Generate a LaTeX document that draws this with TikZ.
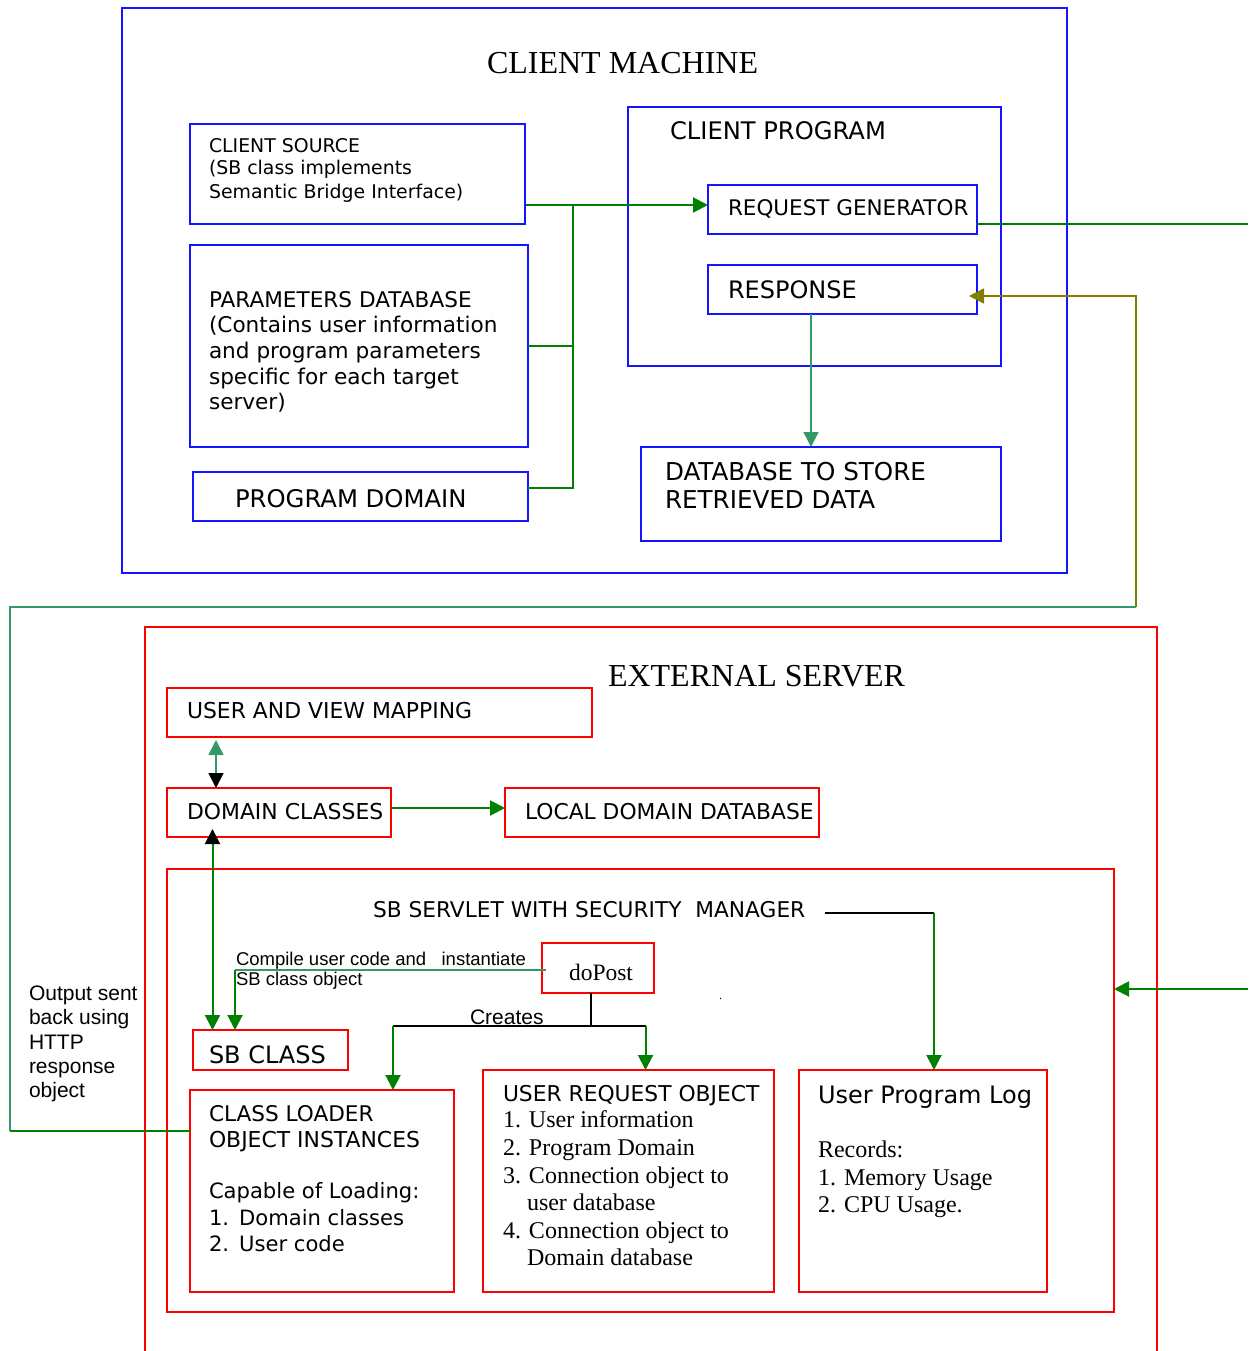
\documentclass[tikz,border=0pt]{standalone}
\usepackage{fontspec}
\setmainfont{Liberation Serif}
\newfontfamily\dvs{DejaVu Sans}
\newfontfamily\ars{Liberation Sans}
\newfontfamily\tms{Liberation Serif}
\usetikzlibrary{arrows.meta,calc,fit}
\definecolor{cblue}{RGB}{20,20,255}
\definecolor{cred}{RGB}{255,0,0}
\definecolor{cgreen}{RGB}{0,128,0}
\definecolor{csea}{RGB}{51,153,102}
\definecolor{colive}{RGB}{128,128,0}
\newcommand\fsz[1]{\fontsize{#1}{#1}\selectfont}
\begin{document}
\begin{tikzpicture}[x=1pt,y=-1pt,
  bbox/.style={draw=cblue,line width=2pt,inner sep=0pt,outer sep=0pt},
  rbox/.style={draw=cred,line width=2pt,inner sep=0pt,outer sep=0pt},
  tx/.style={anchor=base west,inner sep=0pt,outer sep=0pt},
  dvt/.style={tx,font={\dvs\fsz{#1}}},
  art/.style={tx,font={\ars\fsz{#1}}},
  tmt/.style={tx,font={\tms\fsz{#1}}},
  gline/.style={draw=cgreen,line width=2pt},
  sline/.style={draw=csea,line width=1.6pt},
  kline/.style={draw=black,line width=2pt},
  oline/.style={draw=colive,line width=1.6pt},
  tri/.tip={Triangle[length=15pt,width=15pt]},
  ktri/.tip={Triangle[length=15pt,width=15pt,color=black]},
]
\useasboundingbox (0,0) rectangle (1248,1351);

% ---------------- CLIENT MACHINE ----------------
\node[bbox, fit={(122,8) (1067,573)}] (cm) {};
\node[tmt=32] (tcm) at (487,74) {CLIENT MACHINE};

\node[bbox, fit={(190,124) (525,224)}] (cs) {};
\node[dvt=18.9] (tcs1) at (209,153) {CLIENT SOURCE};
\node[dvt=18.9] (tcs2) at (209,175) {(SB class implements};
\node[dvt=18.9] (tcs3) at (209,198) {Semantic Bridge Interface)};

\node[bbox, fit={(190,245) (528,447)}] (pd) {};
\node[dvt=21.6] (tpd1) at (209,307) {PARAMETERS DATABASE};
\node[dvt=21.6] (tpd2) at (209,332) {(Contains user information};
\node[dvt=21.6] (tpd3) at (209,358) {and program parameters};
\node[dvt=21.6] (tpd4) at (209,384) {specific for each target};
\node[dvt=21.6] (tpd5) at (209,409) {server)};

\node[bbox, fit={(193,472) (528,521)}] (pdom) {};
\node[dvt=24.3] (tpdom) at (235,507) {PROGRAM DOMAIN};

\node[bbox, fit={(628,107) (1001,366)}] (cp) {};
\node[dvt=24.2] (tcp) at (670,140) {CLIENT PROGRAM};

\node[bbox, fit={(708,185) (977,234)}] (rg) {};
\node[dvt=21.5] (trg) at (728,215) {REQUEST GENERATOR};

\node[bbox, fit={(708,265) (977,314)}] (resp) {};
\node[dvt=24] (tresp) at (728,298) {RESPONSE};

\node[bbox, fit={(641,447) (1001,541)}] (dbs) {};
\node[dvt=24.6] (tdbs1) at (665,480) {DATABASE TO STORE};
\node[dvt=24.6] (tdbs2) at (665,508) {RETRIEVED DATA};

% ---------------- EXTERNAL SERVER ----------------
\draw[draw=cred,line width=2pt] (145,1352) -- (145,627) -- (1157,627) -- (1157,1352);
\node[tmt=32] (tes) at (608,686) {EXTERNAL SERVER};

\node[rbox, fit={(167,688) (592,737)}] (uvm) {};
\node[dvt=21.9] (tuvm) at (187,718) {USER AND VIEW MAPPING};

\node[rbox, fit={(167,788) (391,837)}] (dc) {};
\node[dvt=21.9] (tdc) at (187,819) {DOMAIN CLASSES};

\node[rbox, fit={(505,788) (819,837)}] (ldd) {};
\node[dvt=21.8] (tldd) at (525,819) {LOCAL DOMAIN DATABASE};

\node[rbox, fit={(167,869) (1114,1312)}] (sv) {};
\node[dvt=21.7] (tsv) at (373,917) {SB SERVLET WITH SECURITY\ \ MANAGER};

\node[rbox, fit={(542,943) (654,993)}] (dp) {};
\node[tmt=23.5] (tdp) at (569,980.5) {doPost};
\node[tmt=12] (tdot) at (719,999) {.};

\node[art=18.5] (tcmp1) at (236,965) {Compile user code and \ \ instantiate};
\node[art=18.5] (tcmp2) at (236,985) {SB class object};
\node[art=21] (tcre) at (470,1024) {Creates};

\node[rbox, fit={(193,1030) (348,1070)}] (sb) {};
\node[dvt=24] (tsb) at (209,1063) {SB CLASS};

\node[rbox, fit={(190,1090) (454,1292)}] (cl) {};
\node[dvt=21.6] (tcl1) at (209,1121) {CLASS LOADER};
\node[dvt=21.9] (tcl2) at (209,1147) {OBJECT INSTANCES};
\node[dvt=21.1] (tcl3) at (209,1198) {Capable of Loading:};
\node[dvt=21.1] (tcl4) at (209,1225) {1.\hspace{10pt}Domain classes};
\node[dvt=21.1] (tcl5) at (209,1251) {2.\hspace{10pt}User code};

\node[rbox, fit={(483,1070) (774,1292)}] (ur) {};
\node[dvt=21.8] (tur0) at (503,1101) {USER REQUEST OBJECT};
\node[tmt=24] (tur1) at (503,1127) {1. User information};
\node[tmt=24] (tur2) at (503,1155) {2. Program Domain};
\node[tmt=24] (tur3) at (503,1183) {3. Connection object to};
\node[tmt=24] (tur4) at (527,1210) {user database};
\node[tmt=24] (tur5) at (503,1238) {4. Connection object to};
\node[tmt=24] (tur6) at (527,1265) {Domain database};

\node[rbox, fit={(799,1070) (1047,1292)}] (upl) {};
\node[dvt=24] (tupl0) at (818,1103) {User Program Log};
\node[tmt=24] (tupl1) at (818,1157) {Records:};
\node[tmt=24] (tupl2) at (818,1185) {1. Memory Usage};
\node[tmt=24] (tupl3) at (818,1212) {2. CPU Usage.};

\node[art=21] (tout1) at (29,1000) {Output sent};
\node[art=21] (tout2) at (29,1024) {back using};
\node[art=21] (tout3) at (29,1049) {HTTP};
\node[art=21] (tout4) at (29,1073) {response};
\node[art=21] (tout5) at (29,1097) {object};

% ---------------- named free points ----------------
\coordinate (busT) at (573,205);
\coordinate (busM) at (573,346);
\coordinate (busB) at (573,488);
\coordinate (rgout) at (1248,224);
\coordinate (oc) at (1136,607);
\coordinate (ot) at (1136,296);
\coordinate (lc) at (10,607);
\coordinate (lb) at (10,1131);
\coordinate (cmp) at (235,970);
\coordinate (crJ) at (591,1026);
\coordinate (crL) at (393,1026);
\coordinate (crR) at (645.5,1026);
\coordinate (s1) at (825,912.5);
\coordinate (s2) at (934,912.5);
\coordinate (inR) at (1248,989);

% ---------------- connectors: client ----------------
\draw[gline,-tri] ($(cs.north east)+(1,81)$) -- ($(rg.north west)+(0,20)$);
\draw[gline] (busT) -- (busB) -- ($(pdom.north east)+(0,16)$);
\draw[gline] ($(pd.north east)+(0,101)$) -- (busM);
\draw[gline] ($(rg.north east)+(0,39)$) -- (rgout);
\draw[sline,-tri] ($(resp.south west)+(103,0)$) -- ($(dbs.north west)+(170,0)$);
\draw[oline,-tri] (oc) -- (ot) -- ($(resp.north east)+(-8,31)$);

% ---------------- return path ----------------
\draw[sline] (oc) -- (lc) -- (lb);
\draw[gline] (lb) -- ($(cl.north west)+(0,41)$);

% ---------------- connectors: server ----------------
\draw[sline,tri-ktri] ($(uvm.south west)+(49,3)$) -- ($(dc.north west)+(49,0)$);
\draw[gline,-tri] ($(dc.north east)+(0,20)$) -- ($(ldd.north west)+(0,20)$);
\draw[gline,ktri-tri] ($(dc.south west)+(45.5,-8)$) -- ($(sb.north west)+(19.5,0)$);
\draw[sline] ($(dp.north west)+(4,27)$) -- (cmp);
\draw[gline,-tri] (cmp) -- ($(sb.north west)+(42,0)$);
\draw[kline] ($(dp.south west)+(49,0)$) -- (crJ);
\draw[kline] (crL) -- (crR);
\draw[gline,-tri] (crL) -- ($(cl.north west)+(203,0)$);
\draw[gline,-tri] (crR) -- ($(ur.north west)+(162.5,0)$);
\draw[kline] (s1) -- (s2);
\draw[gline,-tri] (s2) -- ($(upl.north west)+(135,0)$);
\draw[gline,-tri] (inR) -- ($(sv.north east)+(0,120)$);
\end{tikzpicture}
\end{document}
